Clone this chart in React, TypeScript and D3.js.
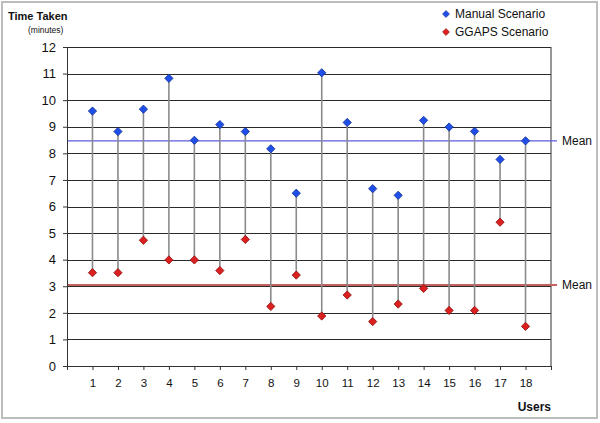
import React, { useEffect, useRef } from 'react';
import * as d3 from 'd3';

const users = d3.range(1, 19);
const manual = [9.59, 8.82, 9.66, 10.82, 8.49, 9.08, 8.82, 8.17, 6.5, 11.03, 9.16, 6.67, 6.42, 9.24, 8.99, 8.83, 7.77, 8.47];
const ggaps = [3.51, 3.51, 4.73, 3.99, 3.99, 3.59, 4.76, 2.24, 3.42, 1.88, 2.67, 1.67, 2.33, 2.92, 2.09, 2.09, 5.41, 1.49];
const means = [
  { value: 8.47, color: '#5a5ae0', width: 1.2 },
  { value: 3.05, color: '#c46262', width: 2 },
];
const yTicks = d3.range(0, 13);
const legend = [
  { label: 'Manual Scenario', color: '#1f4fe8' },
  { label: 'GGAPS Scenario', color: '#dc1f1f' },
];

const W = 600;
const H = 423;

const App = () => {
  const ref = useRef<SVGSVGElement>(null);

  useEffect(() => {
    d3.select(ref.current).selectAll('*').remove();
    const svg = d3.select(ref.current).attr('width', W).attr('height', H);
    const font = 'Arial, "Liberation Sans", sans-serif';

    const margin = { top: 47, right: 49, bottom: 57, left: 67 };
    const x = d3.scaleLinear().domain([0, 19]).range([margin.left, W - margin.right]);
    const y = d3.scaleLinear().domain([0, 12]).range([H - margin.bottom, margin.top]);

    // outer frame
    svg.append('rect')
      .attr('x', 2).attr('y', 2).attr('width', W - 5).attr('height', H - 7)
      .attr('fill', 'white').attr('stroke', '#bdbdbd').attr('stroke-width', 2);

    // horizontal grid
    svg.append('g')
      .selectAll('line')
      .data(yTicks.filter(d => d > 0))
      .enter()
      .append('line')
      .attr('x1', x(0)).attr('x2', x(19))
      .attr('y1', d => Math.round(y(d)) + 0.5).attr('y2', d => Math.round(y(d)) + 0.5)
      .attr('stroke', '#2a2a2a').attr('stroke-width', 1);

    // right border
    svg.append('line')
      .attr('x1', x(19)).attr('x2', x(19)).attr('y1', y(12)).attr('y2', y(0))
      .attr('stroke', '#333').attr('stroke-width', 1);

    // mean lines
    means.forEach(m => {
      svg.append('line')
        .attr('x1', x(0)).attr('x2', x(19) + 6)
        .attr('y1', y(m.value)).attr('y2', y(m.value))
        .attr('stroke', m.color).attr('stroke-width', m.width);
      svg.append('text')
        .attr('x', x(19) + 11).attr('y', y(m.value)).attr('dy', '0.35em')
        .style('font-family', font).style('font-size', '12px').style('fill', '#111')
        .text('Mean');
    });

    // connectors
    svg.append('g')
      .selectAll('line')
      .data(users)
      .enter()
      .append('line')
      .attr('x1', d => x(d)).attr('x2', d => x(d))
      .attr('y1', (d, i) => y(manual[i])).attr('y2', (d, i) => y(ggaps[i]))
      .attr('stroke', '#8a8a8a').attr('stroke-width', 1.6);

    // axes
    const yAxis = svg.append('g')
      .attr('transform', `translate(${x(0)},0)`)
      .call(d3.axisLeft(y).tickValues(yTicks).tickSize(4).tickPadding(7).tickFormat(d3.format('d')));
    yAxis.select('.domain').attr('stroke', '#333');
    yAxis.selectAll('.tick line').attr('stroke', '#333');
    yAxis.selectAll('text').style('font-family', font).style('font-size', '13px').style('fill', '#111');

    const xAxis = svg.append('g')
      .attr('transform', `translate(0,${y(0)})`)
      .call(d3.axisBottom(x).tickValues(d3.range(0, 20)).tickSize(4).tickPadding(9)
        .tickFormat(d => (+d >= 1 && +d <= 18 ? String(d) : '')));
    xAxis.select('.domain').attr('stroke', '#333');
    xAxis.selectAll('.tick line').attr('stroke', '#333');
    xAxis.selectAll('text').style('font-family', font).style('font-size', '11.5px').style('fill', '#111');

    // markers
    const diamond = d3.symbol().type(d3.symbolSquare).size(34);
    const drawPoints = (values: number[], color: string) => {
      svg.append('g')
        .selectAll('path')
        .data(values)
        .enter()
        .append('path')
        .attr('d', diamond)
        .attr('transform', (d, i) => `translate(${x(users[i])},${y(d)}) rotate(45)`)
        .attr('fill', color)
        .attr('stroke', d3.color(color)!.darker(1.2).toString())
        .attr('stroke-width', 0.8);
    };
    drawPoints(manual, legend[0].color);
    drawPoints(ggaps, legend[1].color);

    // titles
    svg.append('text')
      .attr('x', 8).attr('y', 20)
      .style('font-family', font).style('font-size', '11px').style('font-weight', 'bold').style('fill', '#111')
      .text('Time Taken');
    svg.append('text')
      .attr('x', 28).attr('y', 33)
      .style('font-family', font).style('font-size', '8.5px').style('fill', '#111')
      .text('(minutes)');
    svg.append('text')
      .attr('x', x(19)).attr('y', 411).attr('text-anchor', 'end')
      .style('font-family', font).style('font-size', '12px').style('font-weight', 'bold').style('fill', '#111')
      .text('Users');

    // legend
    const lg = svg.append('g')
      .selectAll('g')
      .data(legend)
      .enter()
      .append('g')
      .attr('transform', (d, i) => `translate(446,${14 + i * 18})`);
    lg.append('path')
      .attr('d', d3.symbol().type(d3.symbolSquare).size(24))
      .attr('transform', 'rotate(45)')
      .attr('fill', d => d.color)
      .attr('stroke', d => d3.color(d.color)!.darker(1.2).toString())
      .attr('stroke-width', 0.6);
    lg.append('text')
      .attr('x', 9).attr('dy', '0.35em')
      .style('font-family', font).style('font-size', '12px').style('fill', '#111')
      .text(d => d.label);
  }, []);

  return <svg ref={ref} style={{ position: 'absolute', left: 0, top: 0 }}></svg>;
};

export default App;
